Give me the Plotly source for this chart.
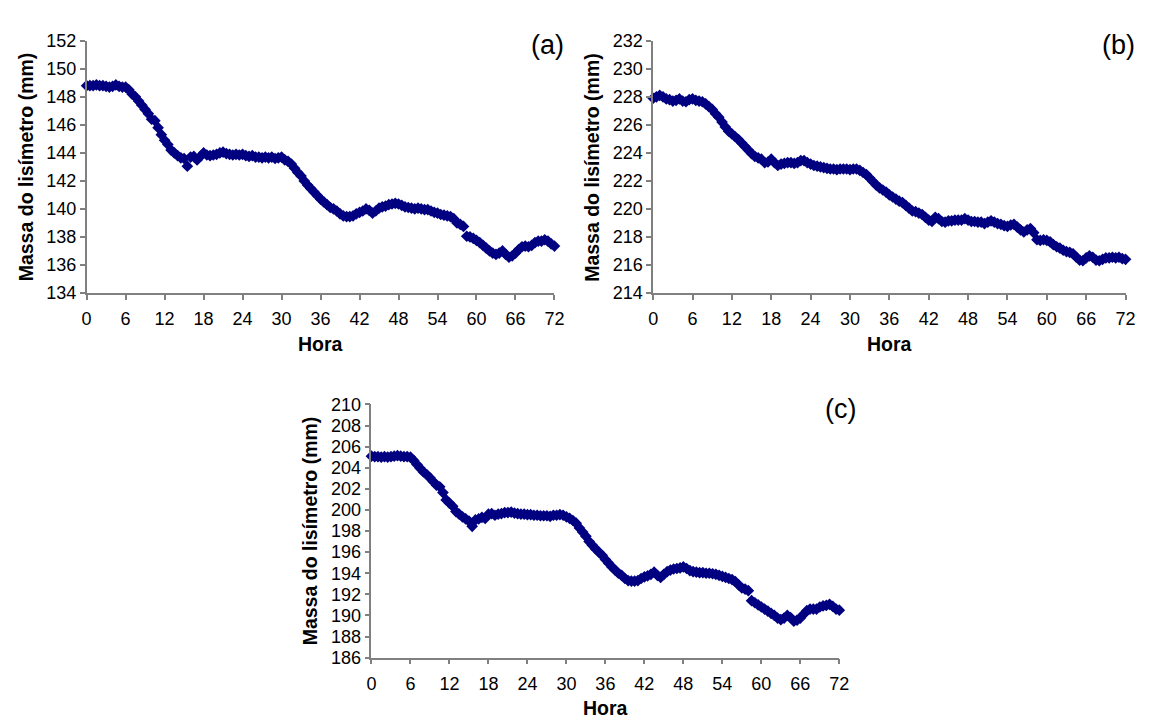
import plotly.graph_objects as go

# ---------------- data ----------------
hora = [i * 0.5 for i in range(145)]

massa_a = [
    148.8, 148.8, 148.8, 148.85, 148.8, 148.8, 148.75, 148.7, 148.75, 148.85, 148.75, 148.7, 148.7,
    148.5, 148.2, 148.0, 147.7, 147.4, 147.1, 146.8, 146.4, 146.3, 145.8, 145.3, 144.9, 144.6,
    144.2, 144.0, 143.8, 143.65, 143.6, 143.05, 143.7, 143.75, 143.5, 143.75, 144.0, 143.85,
    143.8, 143.85, 143.9, 144.0, 144.05, 143.95, 143.9, 143.85, 143.9, 143.85, 143.9, 143.8,
    143.75, 143.8, 143.7, 143.7, 143.65, 143.7, 143.65, 143.7, 143.6, 143.65, 143.7, 143.5,
    143.4, 143.2, 142.9, 142.6, 142.35, 142.0, 141.7, 141.45, 141.2, 140.95, 140.7, 140.5,
    140.3, 140.1, 140.0, 139.85, 139.65, 139.5, 139.45, 139.45, 139.5, 139.65, 139.75, 139.85,
    140.0, 139.9, 139.7, 139.85, 140.05, 140.15, 140.2, 140.3, 140.35, 140.4, 140.35, 140.25,
    140.15, 140.1, 140.05, 140.0, 140.05, 140.0, 139.95, 139.95, 139.85, 139.75, 139.7, 139.6,
    139.55, 139.5, 139.45, 139.3, 139.0, 138.9, 138.75, 138.05, 138.0, 137.9, 137.75, 137.6,
    137.4, 137.2, 137.0, 136.85, 136.75, 136.85, 137.0, 136.75, 136.55, 136.65, 136.85, 137.1,
    137.3, 137.35, 137.3, 137.4, 137.6, 137.7, 137.7, 137.8, 137.7, 137.5, 137.35,
]

massa_b = [
    227.9, 228.0, 228.1, 228.0, 227.85, 227.8, 227.7, 227.75, 227.85, 227.7, 227.65, 227.8, 227.85,
    227.75, 227.7, 227.65, 227.5, 227.3, 227.1, 226.8, 226.55, 226.2, 225.85, 225.55, 225.35,
    225.15, 224.95, 224.7, 224.45, 224.2, 223.95, 223.75, 223.65, 223.55, 223.3, 223.35, 223.55,
    223.3, 223.1, 223.2, 223.25, 223.3, 223.3, 223.25, 223.3, 223.45, 223.45, 223.3, 223.2,
    223.1, 223.05, 223.0, 222.95, 222.9, 222.85, 222.85, 222.8, 222.85, 222.85, 222.85, 222.8,
    222.85, 222.85, 222.75, 222.6, 222.45, 222.2, 221.95, 221.7, 221.5, 221.35, 221.2, 221.0,
    220.85, 220.7, 220.55, 220.45, 220.25, 220.05, 219.85, 219.8, 219.7, 219.6, 219.4, 219.2,
    219.1, 219.4, 219.3, 219.1, 219.05, 219.15, 219.15, 219.2, 219.2, 219.2, 219.3, 219.2,
    219.1, 219.1, 219.05, 219.05, 218.95, 219.05, 219.15, 219.05, 218.95, 218.9, 218.8, 218.75,
    218.85, 218.9, 218.7, 218.5, 218.35, 218.5, 218.6, 218.3, 217.8, 217.75, 217.8, 217.75,
    217.65, 217.45, 217.3, 217.2, 217.05, 216.95, 216.9, 216.8, 216.55, 216.35, 216.3, 216.5,
    216.65, 216.55, 216.35, 216.3, 216.4, 216.5, 216.5, 216.55, 216.5, 216.55, 216.45, 216.4,
]

massa_c = [
    205.1, 205.05, 205.05, 205.0, 205.05, 205.0, 205.05, 205.1, 205.15, 205.1, 205.05, 205.05, 205.0,
    204.7, 204.3, 203.95, 203.6, 203.35, 203.05, 202.7, 202.35, 202.2, 201.65, 200.95, 200.65,
    200.35, 199.85, 199.6, 199.35, 199.15, 198.95, 198.45, 199.05, 199.15, 199.3, 199.2, 199.6,
    199.65, 199.5, 199.6, 199.65, 199.75, 199.75, 199.8, 199.7, 199.65, 199.6, 199.6, 199.55,
    199.55, 199.5, 199.5, 199.45, 199.45, 199.45, 199.4, 199.5, 199.5, 199.55, 199.5, 199.35,
    199.2, 199.0, 198.75, 198.3, 197.9, 197.5, 197.0, 196.65, 196.3, 196.0, 195.7, 195.3,
    194.95, 194.6, 194.3, 194.0, 193.8, 193.5, 193.3, 193.25, 193.25, 193.3, 193.5, 193.65,
    193.75, 193.9, 194.1, 193.8, 193.6, 193.9, 194.15, 194.3, 194.4, 194.45, 194.5, 194.6,
    194.45, 194.25, 194.15, 194.1, 194.05, 194.05, 194.0, 194.0, 193.95, 193.9, 193.8, 193.7,
    193.6, 193.5, 193.4, 193.2, 192.9, 192.6, 192.5, 192.35, 191.4, 191.2, 191.0, 190.8,
    190.6, 190.4, 190.2, 190.0, 189.75, 189.6, 189.75, 190.0, 189.8, 189.45, 189.55, 189.75,
    190.1, 190.45, 190.6, 190.6, 190.6, 190.8, 190.9, 190.95, 191.05, 190.85, 190.6, 190.5,
]

x_ticks = list(range(0, 73, 6))
y_range_a = [134, 152]
y_range_b = [214, 232]
y_range_c = [186, 210]
panel_labels = ["(a)", "(b)", "(c)"]
x_title = "Hora"
y_title = "Massa do lisímetro (mm)"

# ---------------- layout helpers ----------------
W, H = 1153, 724
FONT = "Arial, 'Liberation Sans', sans-serif"
NAVY = "#000080"
AXIS = "#808080"


def xd(a, b):
    return [a / W, b / W]


def yd(top, bottom):
    return [1 - bottom / H, 1 - top / H]


fig = go.Figure()

panels = [
    dict(y=massa_a, xa="x", ya="y", xdom=(82.7, 556.7), ydom=(31.7, 291), yr=y_range_a),
    dict(y=massa_b, xa="x2", ya="y2", xdom=(656.7, 1135.3), ydom=(31.7, 291), yr=y_range_b),
    dict(y=massa_c, xa="x3", ya="y3", xdom=(371.3, 845.3), ydom=(405.7, 666), yr=y_range_c),
]

layout = dict(
    width=W, height=H,
    margin=dict(l=0, r=0, t=0, b=0),
    paper_bgcolor="white", plot_bgcolor="white",
    showlegend=False,
    font=dict(family=FONT, color="black"),
)

annotations = []
for i, p in enumerate(panels):
    fig.add_trace(go.Scatter(
        x=hora, y=p["y"], mode="markers",
        marker=dict(symbol="diamond", size=9, color=NAVY, line=dict(width=0)),
        xaxis=p["xa"], yaxis=p["ya"], cliponaxis=False,
    ))
    suffix = "" if i == 0 else str(i + 1)
    layout["xaxis" + suffix] = dict(
        domain=xd(*p["xdom"]), range=[0, 72], tickvals=x_ticks,
        showline=True, linecolor=AXIS, linewidth=1.5,
        ticks="outside", ticklen=5, tickcolor=AXIS, tickwidth=1.5,
        showgrid=False, zeroline=False, ticklabelstandoff=4,
        tickfont=dict(size=18, family=FONT, color="black"),
        anchor="y" + suffix, fixedrange=True,
    )
    layout["yaxis" + suffix] = dict(
        domain=yd(*p["ydom"]), range=p["yr"], dtick=2, tick0=p["yr"][0],
        showline=True, linecolor=AXIS, linewidth=1.5,
        ticks="outside", ticklen=5, tickcolor=AXIS, tickwidth=1.5,
        showgrid=False, zeroline=False,
        tickfont=dict(size=18, family=FONT, color="black"),
        anchor="x" + suffix, fixedrange=True,
    )
    x0, x1 = p["xdom"]
    t0, t1 = p["ydom"]
    # x axis title
    annotations.append(dict(
        text="<b>" + x_title + "</b>", xref="paper", yref="paper",
        x=(x0 + x1) / 2 / W, y=1 - (t1 + 52) / H,
        showarrow=False, xanchor="center", yanchor="middle",
        font=dict(size=19.5, family=FONT, color="black"),
    ))
    # y axis title
    annotations.append(dict(
        text="<b>" + y_title + "</b>", xref="paper", yref="paper",
        x=(x0 - 62) / W, y=1 - ((t0 + t1) / 2) / H, textangle=-90,
        showarrow=False, xanchor="center", yanchor="middle",
        font=dict(size=19.5, family=FONT, color="black"),
    ))

label_pos = [(550, 36), (1128, 36), (847, 410)]
for lab, (lx, ly) in zip(panel_labels, label_pos):
    annotations.append(dict(
        text=lab, xref="paper", yref="paper", x=lx / W, y=1 - ly / H,
        showarrow=False, xanchor="center", yanchor="middle",
        font=dict(size=27, family=FONT, color="black"),
    ))

layout["annotations"] = annotations
fig.update_layout(**layout)
fig.write_html("out.html")
